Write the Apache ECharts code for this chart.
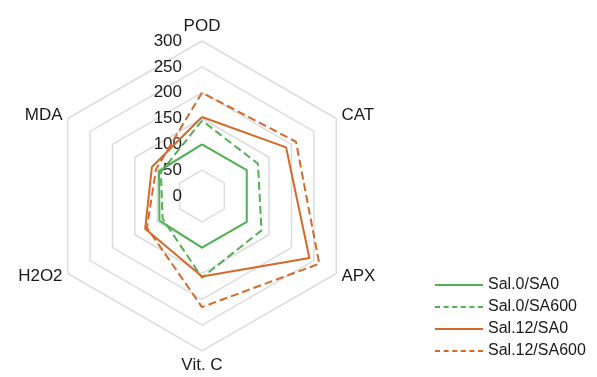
<!DOCTYPE html>
<html>
<head>
<meta charset="utf-8">
<script src="https://cdn.jsdelivr.net/npm/echarts@6/dist/echarts.min.js"></script>
<style>html,body{margin:0;padding:0;background:#fff;}#c{width:597px;height:377px;}</style>
</head>
<body>
<div id="c"></div>
<script>
// Indicators in ECharts order (counter-clockwise from top)
var indicators = ['POD', 'MDA', 'H2O2', 'Vit. C', 'APX', 'CAT'];
var axisMax = 300;
var tickStep = 50;
var seriesNames = ['Sal.0/SA0', 'Sal.0/SA600', 'Sal.12/SA0', 'Sal.12/SA600'];
// values in order: POD, MDA, H2O2, Vit. C, APX, CAT
var sal0sa0 = [100, 96, 95, 100, 100, 100];
var sal0sa600 = [146, 92, 88, 158, 133, 125];
var sal12sa0 = [153, 112, 127, 156, 240, 188];
var sal12sa600 = [200, 103, 123, 215, 262, 210];

var colors = ['#52b052', '#52b052', '#d4692a', '#d4692a'];
var dashes = ['solid', 'dashed', 'solid', 'dashed'];
var values = [sal0sa0, sal0sa600, sal12sa0, sal12sa600];

var solidIcon = 'path://M0,0h48v2h-48z';
var dashIcon = 'path://M0,0h5v2h-5z M8.6,0h5v2h-5z M17.2,0h5v2h-5z M25.8,0h5v2h-5z M34.4,0h5v2h-5z M43,0h5v2h-5z';

var font = 'Liberation Sans, Arial, sans-serif';
var center = [202, 196];
var rad = 155;

var chart = echarts.init(document.getElementById('c'));
chart.setOption({
  animation: false,
  backgroundColor: '#fff',
  legend: {
    orient: 'vertical',
    left: 430,
    top: 272,
    itemWidth: 48,
    itemHeight: 2,
    itemGap: 6,
    textStyle: {fontSize: 16, color: '#1a1a1a', fontFamily: font},
    data: seriesNames.map(function (n, i) {
      return {name: n, icon: dashes[i] === 'solid' ? solidIcon : dashIcon, itemStyle: {color: colors[i]}};
    })
  },
  radar: {
    center: center,
    radius: rad,
    startAngle: 90,
    splitNumber: 6,
    shape: 'polygon',
    nameGap: 6,
    axisName: {color: '#1a1a1a', fontSize: 17, fontFamily: font},
    splitLine: {lineStyle: {color: '#dcdcdc', width: 1.5}},
    splitArea: {show: false},
    axisLine: {show: false},
    axisTick: {show: false},
    axisLabel: {show: false},
    indicator: indicators.map(function (n) { return {name: n, min: 0, max: axisMax}; })
  },
  polar: {center: center, radius: rad},
  angleAxis: {type: 'value', min: 0, max: 360, startAngle: 90, show: false},
  radiusAxis: {
    type: 'value', min: 0, max: axisMax, interval: tickStep,
    axisLine: {show: false}, axisTick: {show: false}, splitLine: {show: false},
    axisLabel: {fontSize: 17, color: '#1a1a1a', fontFamily: font, margin: 20}
  },
  series: [{
    type: 'radar',
    symbol: 'none',
    data: values.map(function (v, i) {
      return {
        name: seriesNames[i],
        value: v,
        lineStyle: {color: colors[i], type: dashes[i], width: 2},
        itemStyle: {color: colors[i]}
      };
    })
  }]
});
</script>
</body>
</html>
